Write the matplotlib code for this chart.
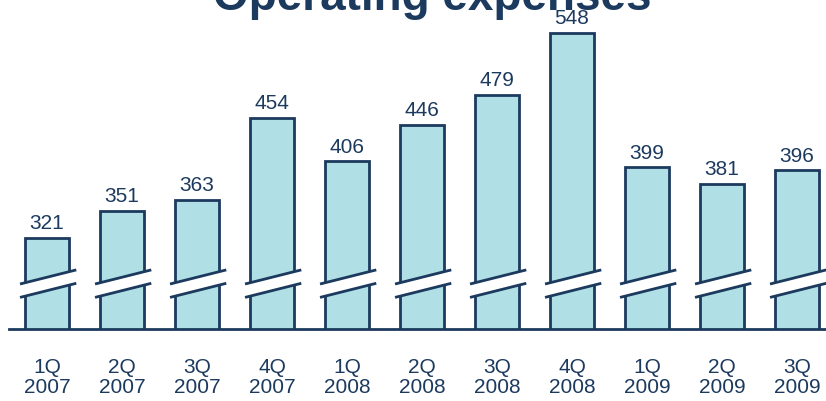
import numpy as np
import matplotlib.pyplot as plt

plt.rcParams['font.family'] = ['Liberation Sans', 'DejaVu Sans']

quarters = ['1Q', '2Q', '3Q', '4Q', '1Q', '2Q', '3Q', '4Q', '1Q', '2Q', '3Q']
years = ['2007', '2007', '2007', '2007', '2008', '2008', '2008', '2008', '2009', '2009', '2009']
expenses = [321, 351, 363, 454, 406, 446, 479, 548, 399, 381, 396]

navy = '#1c3a5e'
fill = '#b0dfe5'

fig = plt.figure(figsize=(8.26, 4.02), dpi=100)
ax = fig.add_axes([9 / 826, 72 / 402, 817 / 826, 330 / 402])

x = np.arange(len(expenses))
ax.bar(x, expenses, width=0.59, color=fill, edgecolor=navy, linewidth=2, zorder=2)

for xi, v in zip(x, expenses):
    ax.annotate(str(v), (xi, v), xytext=(0, 4), textcoords='offset points',
                ha='center', va='bottom', fontsize=15, color=navy)

# axis break marks across every bar
brk = 270.6
half_w_l, half_w_r = 0.36, 0.39
tilt = 7.8
gap = 7.4
for xi in x:
    xl, xr = xi - half_w_l, xi + half_w_r
    upper = [brk - tilt + gap, brk + tilt + gap]
    lower = [brk - tilt - gap, brk + tilt - gap]
    ax.fill([xl, xr, xr, xl], [upper[0], upper[1], lower[1], lower[0]],
            color='white', zorder=3, lw=0)
    ax.plot([xl, xr], upper, color=navy, lw=2, zorder=4, solid_capstyle='butt')
    ax.plot([xl, xr], lower, color=navy, lw=2, zorder=4, solid_capstyle='butt')

ax.set_xlim(-0.507, -0.507 + 817 / 75)
ax.set_ylim(220.5, 585.1)

ax.set_xticks(x)
ax.set_xticklabels([q + '\n' + y for q, y in zip(quarters, years)],
                   fontsize=15, color=navy, linespacing=1.1)
ax.tick_params(axis='x', length=0, pad=20)
ax.set_yticks([])

for side in ['top', 'right', 'left']:
    ax.spines[side].set_visible(False)
ax.spines['bottom'].set_color(navy)
ax.spines['bottom'].set_linewidth(2)
ax.spines['bottom'].set_zorder(5)

# title sits mostly above the top edge of the figure
fig.text(432 / 826, 1 - 9.5 / 402, 'Operating expenses', ha='center', va='baseline',
         fontsize=33, fontweight='bold', color=navy)

fig.savefig('out.png', dpi=100)
